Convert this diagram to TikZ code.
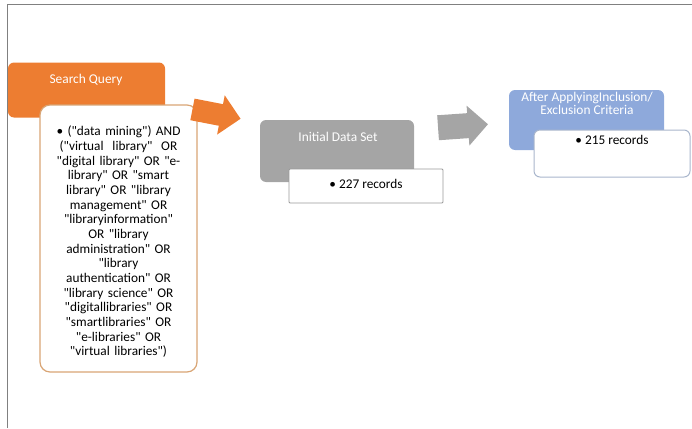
\documentclass[tikz,border=0pt]{standalone}
\usepackage{fontspec}
\setmainfont{Carlito}[Ligatures=TeXOff]
\definecolor{qorange}{HTML}{ED7D31}
\definecolor{qorangeb}{HTML}{D9A575}
\definecolor{qgray}{HTML}{A5A5A5}
\definecolor{qgrayb}{HTML}{9A9A9A}
\definecolor{qblue}{HTML}{8EA9DB}
\definecolor{qblueb}{HTML}{A9B6CC}
\definecolor{qframe}{HTML}{808080}
\tikzset{
  head/.style={rounded corners=6pt, inner sep=0pt},
  headtext/.style={text=white, inner sep=0pt, align=center, font=\fontsize{13.4}{13.2}\selectfont},
  detail/.style={draw, fill=white, rounded corners=6pt, inner sep=0pt},
  bodytext/.style={inner sep=0pt, align=center, font=\fontsize{13.3}{14.67}\selectfont}
}
\begin{document}
\begin{tikzpicture}[x=1pt,y=-1pt]
\useasboundingbox (0,0) rectangle (692,428);
% frame
\draw[qframe, line width=0.8pt] (7,428) -- (7,4) -- (692,4);
% search query
\node[head, fill=qorange, minimum width=157pt, minimum height=55pt] (sq) at (86.5,90) {};
\node[headtext] (sqt) at (86,80) {Search Query};
\node[detail, draw=qorangeb, line width=1.2pt, rounded corners=10pt, minimum width=157pt, minimum height=267pt] (sqd) at (118.5,238.5) {};
\node[bodytext, text width=157pt] (sqdt) at (118.5,242)
  {\textbullet\ ("data mining") AND\\
  ("virtual\ \ library"\ \ OR\\
  "digital library" OR "e-\\
  library" OR "smart\\
  library" OR "library\\
  management" OR\\
  "libraryinformation"\\
  OR "library\\
  administration" OR\\
  "library\\
  authentication" OR\\
  "library science" OR\\
  "digitallibraries" OR\\
  "smartlibraries" OR\\
  "e-libraries" OR\\
  "virtual libraries")};
% arrow 1
\fill[qorange, rotate around={-11:(216,114)}]
  (192,103) -- (221,103) -- (221,94) -- (241,114) -- (221,134) -- (221,125) -- (192,125) -- cycle;
% initial data set
\node[head, fill=qgray, minimum width=154pt, minimum height=62pt] (ids) at (337,151) {};
\node[headtext] (idst) at (338,137) {Initial Data Set};
\node[detail, draw=qgrayb, line width=0.8pt, rounded corners=1pt, minimum width=154pt, minimum height=34pt] (idsd) at (366,186) {};
\node[bodytext] (idsdt) at (366,183.5) {\textbullet\ 227 records};
% arrow 2
\fill[qgray, rotate around={4:(463,126)}]
  (438,113.5) -- (468,113.5) -- (468,106) -- (488,126) -- (468,146) -- (468,138.5) -- (438,138.5) -- cycle;
% after applying
\node[head, fill=qblue, minimum width=155pt, minimum height=60pt] (aa) at (586.5,120) {};
\node[headtext] (aat) at (587,103.5) {After ApplyingInclusion/\\Exclusion Criteria};
\node[detail, draw=qblueb, line width=1pt, minimum width=156pt, minimum height=47pt] (aad) at (612,153.5) {};
\node[bodytext] (aadt) at (612,140) {\textbullet\ 215 records};
\end{tikzpicture}
\end{document}
